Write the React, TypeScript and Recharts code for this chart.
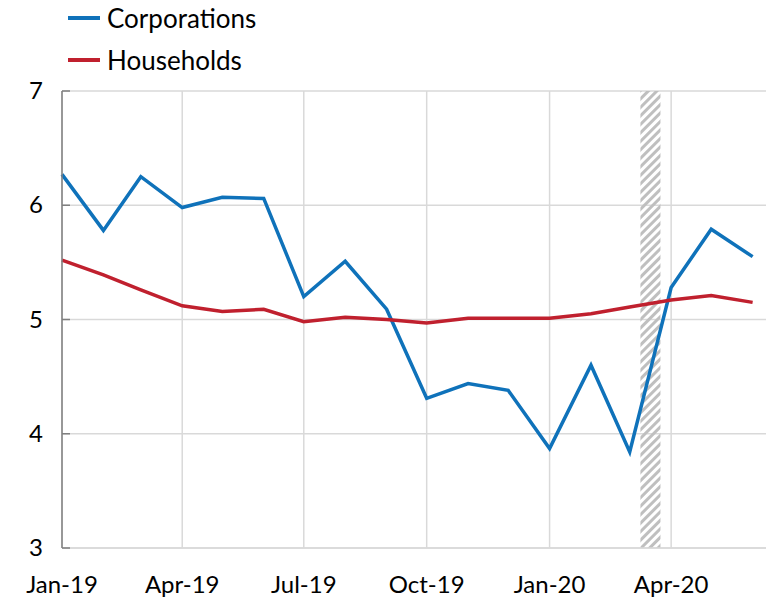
import {
  CartesianGrid,
  Line,
  LineChart,
  ReferenceArea,
  XAxis,
  YAxis,
} from "recharts";

// first of each month, Jan-19 .. Jun-20
const MONTHS = [
  "2019-01", "2019-02", "2019-03", "2019-04", "2019-05", "2019-06",
  "2019-07", "2019-08", "2019-09", "2019-10", "2019-11", "2019-12",
  "2020-01", "2020-02", "2020-03", "2020-04", "2020-05", "2020-06",
];
const CORPORATIONS = [
  6.27, 5.78, 6.25, 5.98, 6.07, 6.06, 5.2, 5.51, 5.09, 4.31, 4.44, 4.38,
  3.87, 4.6, 3.84, 5.28, 5.79, 5.55,
];
const HOUSEHOLDS = [
  5.52, 5.39, 5.26, 5.12, 5.07, 5.09, 4.98, 5.02, 5.0, 4.97, 5.01, 5.01,
  5.01, 5.05, 5.11, 5.17, 5.21, 5.15,
];
const X_TICKS = ["2019-01-01", "2019-04-01", "2019-07-01", "2019-10-01", "2020-01-01", "2020-04-01"];
const X_LABELS = ["Jan-19", "Apr-19", "Jul-19", "Oct-19", "Jan-20", "Apr-20"];
const Y_TICKS = [3, 4, 5, 6, 7];
const X_DOMAIN = ["2019-01-01", "2020-06-17"];
const BAND = ["2020-03-09", "2020-03-24"];

const SERIES = [
  { key: "corporations", label: "Corporations", color: "#0F72BA" },
  { key: "households", label: "Households", color: "#C0202E" },
];

const ts = (d: string) => Date.parse(d.length === 7 ? `${d}-01T00:00:00Z` : `${d}T00:00:00Z`);

const data = MONTHS.map((m, i) => ({
  t: ts(m),
  corporations: CORPORATIONS[i],
  households: HOUSEHOLDS[i],
}));

const FONT = "Lato, 'Open Sans', sans-serif";

function XTick({ x, y, payload }: any) {
  const idx = X_TICKS.map(ts).indexOf(payload.value);
  return (
    <text x={x} y={y + 45} textAnchor="middle" fill="#000" fontSize={24} fontFamily={FONT}>
      {X_LABELS[idx]}
    </text>
  );
}

function YTick({ x, y, payload }: any) {
  return (
    <g>
      <text
        x={x}
        y={y}
        dy={8}
        textAnchor="end"
        fill="#000"
        fontSize={24}
        fontFamily={FONT}
      >
        {payload.value}
      </text>
      <line x1={x + 19} x2={x + 27} y1={y} y2={y} stroke="#7F7F7F" strokeWidth={1.5} />
    </g>
  );
}

export default function App() {
  return (
    <div style={{ position: "relative", width: 766, height: 592, fontFamily: FONT }}>
      <div style={{ position: "absolute", left: 60, top: 0 }}>
        {SERIES.map((s, i) => (
          <div
            key={s.key}
            style={{
              position: "absolute",
              top: i * 42 - 5,
              left: 0,
              display: "flex",
              alignItems: "center",
              whiteSpace: "nowrap",
              height: 30,
            }}
          >
            <span style={{ display: "inline-block", width: 32, height: 3.5, background: s.color }} />
            <span style={{ marginLeft: 7, fontSize: 26, color: "#000" }}>{s.label}</span>
          </div>
        ))}
      </div>
      <LineChart width={766} height={592} data={data} margin={{ top: 83, right: 0, bottom: 0, left: 0 }}>
        <defs>
          <pattern id="hatch" width={6} height={6} patternUnits="userSpaceOnUse" patternTransform="rotate(45)">
            <rect x={0} y={0} width={3} height={6} fill="#BFBFBF" />
          </pattern>
        </defs>
        <CartesianGrid stroke="#D9D9D9" strokeWidth={1.5} />
        <XAxis
          dataKey="t"
          type="number"
          scale="time"
          domain={X_DOMAIN.map(ts)}
          ticks={X_TICKS.map(ts)}
          tick={<XTick />}
          tickLine={false}
          tickSize={0}
          tickMargin={0}
          axisLine={{ stroke: "#D9D9D9", strokeWidth: 1.5 }}
          height={52}
          interval={0}
        />
        <YAxis
          domain={[3, 7]}
          ticks={Y_TICKS}
          tick={<YTick />}
          tickLine={false}
          tickSize={0}
          tickMargin={19}
          axisLine={{ stroke: "#7F7F7F", strokeWidth: 1.5 }}
          width={54}
          interval={0}
        />
        <ReferenceArea
          x1={ts(BAND[0])}
          x2={ts(BAND[1])}
          y1={3}
          y2={7}
          fill="url(#hatch)"
          fillOpacity={1}
          stroke="none"
        />
        {SERIES.map((s) => (
          <Line
            key={s.key}
            type="linear"
            dataKey={s.key}
            stroke={s.color}
            strokeWidth={3.5}
            dot={false}
            isAnimationActive={false}
          />
        ))}
      </LineChart>
    </div>
  );
}
